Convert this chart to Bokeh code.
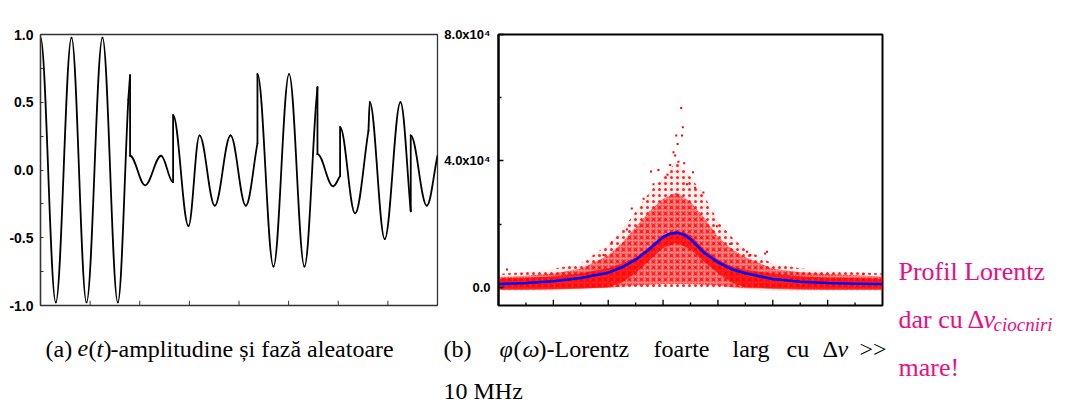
from bokeh.plotting import figure
from bokeh.models import Range1d, FixedTicker, ColumnDataSource
from bokeh.layouts import row, column
from bokeh.embed import file_html
from bokeh.resources import INLINE
from bokeh.core.properties import value

# ---------------- data: panel (a)  e(t), knots ----------------
wave_t = [0.0, 0.308, 0.625, 0.927, 1.249, 1.558, 1.769, 1.805, 1.805, 2.108,
          2.430, 2.672, 2.672, 2.982, 3.204, 3.512, 3.830, 4.137, 4.372, 4.372,
          4.695, 5.009, 5.319, 5.547, 5.581, 5.581, 5.896, 6.037, 6.037, 6.339,
          6.609, 6.635, 6.937, 7.254, 7.461, 7.461, 7.784, 8.0]
wave_e = [0.98, -0.977, 0.976, -0.977, 0.976, -0.977, 0.52, 0.70, 0.105, -0.113,
          0.105, -0.09, 0.405, -0.413, 0.255, -0.263, 0.255, -0.263, 0.197, 0.708,
          -0.712, 0.708, -0.712, 0.46, 0.612, 0.117, -0.12, -0.045, 0.317, -0.32,
          0.29, 0.50, -0.51, 0.50, -0.305, 0.255, -0.263, 0.105]
# 1 = local extremum (flat tangent), 0 = point on a slope / jump point
wave_flat = [1, 1, 1, 1, 1, 1, 0, 0, 1, 1,
             1, 1, 1, 1, 1, 1, 1, 1, 0, 1,
             1, 1, 1, 0, 0, 1, 1, 0, 1, 1,
             0, 1, 1, 1, 0, 1, 1, 0]
a_yticks = [-1.0, -0.5, 0.0, 0.5, 1.0]
a_yminor = [-0.75, -0.25, 0.25, 0.75]
a_xticks = [1, 2, 3, 4, 5, 6, 7]

# ---------------- data: panel (b)  Lorentz fit and scatter cloud ----------------
lor_x = [0, 1, 2, 3, 4, 4.5, 5, 5.5, 6, 6.25, 6.5, 6.75, 7, 7.5, 8, 8.5, 9, 10, 11, 12, 13, 14]
lor_y = [1000, 1300, 1900, 2900, 4600, 6300, 8700, 12000, 15900, 16900, 17200, 16700,
         15200, 10900, 7900, 5700, 4400, 2600, 1700, 1300, 1100, 1000]

env_x = [0, 1, 2, 3, 4, 4.5, 5, 5.5, 6, 6.5, 7, 7.5, 8, 8.5, 9, 10, 11, 12, 13, 14]
sparse_lo = [-1000, -1000, -1000, -800, -500, -300, 0, 0, 0, 0, 0, 0, -300, -500, -800, -1000, -1000, -1000, -1000, -1000]
sparse_hi = [4200, 4800, 5800, 7500, 13500, 18000, 24000, 30000, 35000, 40000, 35000, 29000, 21000, 16000, 12000, 7500, 6000, 5200, 4800, 4300]
mid_lo = [-800, -800, -700, -500, -200, 200, 500, 800, 1000, 1000, 1000, 800, 500, 0, -300, -600, -800, -800, -800, -800]
mid_hi = [3200, 3600, 4300, 5800, 10000, 14000, 19000, 24000, 28000, 30000, 27000, 22000, 16000, 12000, 9500, 5800, 4700, 4200, 3800, 3400]
dense_lo = [-700, -700, -600, -400, 0, 1500, 4500, 8500, 12500, 14000, 12000, 8000, 4500, 1500, 0, -400, -600, -700, -700, -700]
dense_hi = [2700, 3000, 3500, 4400, 6000, 7500, 9500, 12800, 16500, 18000, 16500, 12000, 8800, 6600, 5500, 4300, 3500, 3100, 2900, 2700]

out_x = [6.66, 6.72, 6.48, 6.69, 6.53, 6.38, 6.44, 6.56, 6.26, 6.77, 5.56, 5.83, 7.09, 6.16, 6.87,
         7.17, 5.65, 5.29, 7.47, 4.86, 4.13, 4.68, 7.96, 8.45, 9.06, 9.79, 3.83, 9.18, 9.72, 0.31, 13.3]
out_y = [56700, 50600, 48000, 48000, 45300, 42700, 41700, 39700, 38700, 39200, 36600, 37100, 36400, 35600, 32600,
         31500, 32600, 28000, 30000, 24900, 14200, 18300, 19300, 13700, 11200, 11200, 10200, 10200, 10700, 5600, 4200]

b_yticks = [0, 40000, 80000]
b_yminor = [20000, 60000]
b_ylabels = {0: "0.0", 40000: "4.0x10\u2074", 80000: "8.0x10\u2074"}
b_xticks = [2, 4, 6, 8, 10, 12]
b_xminor = [1, 3, 5, 7, 9, 11, 13]

PINK = "#EC0C82"
SERIF = value("Liberation Serif")

A_Y0, A_Y1, A_FRAME_H = -1.0, 1.0, 290
B_Y0, B_Y1, B_FRAME_H = -5800, 80000, 282


def style_yaxis(ax, color, width, maj_in, min_in, standoff, fsize):
    ax.major_tick_in = maj_in
    ax.major_tick_out = 0
    ax.minor_tick_in = min_in
    ax.minor_tick_out = 0
    ax.major_label_standoff = standoff
    ax.major_label_text_font = "Liberation Sans"
    ax.major_label_text_font_style = "bold"
    ax.major_label_text_font_size = fsize
    ax.major_label_text_color = "black"
    ax.axis_line_color = color
    ax.axis_line_width = width
    ax.major_tick_line_color = color
    ax.minor_tick_line_color = color
    ax.major_tick_line_width = max(1.0, width * 0.65)
    ax.minor_tick_line_width = max(1.0, width * 0.65)


# ---------------- panel (a) ----------------
pa = figure(width=440, height=330, x_range=Range1d(0, 8), y_range=Range1d(A_Y0, A_Y1),
            toolbar_location=None, output_backend="svg", x_axis_location=None,
            min_border_left=40, min_border_right=3, min_border_top=15, min_border_bottom=25)
pa.grid.visible = False
pa.outline_line_color = "#333333"
pa.outline_line_width = 1.3
pa.border_fill_color = "white"

h = 0.3634
x0, y0, x1, y1, cx0, cy0, cx1, cy1 = [], [], [], [], [], [], [], []
for i in range(len(wave_t) - 1):
    ta, ea, fa = wave_t[i], wave_e[i], wave_flat[i]
    tb, eb, fb = wave_t[i + 1], wave_e[i + 1], wave_flat[i + 1]
    dt, de = tb - ta, eb - ea
    x0.append(ta); y0.append(ea); x1.append(tb); y1.append(eb)
    cx0.append(ta + h * dt); cy0.append(ea if fa else ea + h * de)
    cx1.append(tb - h * dt); cy1.append(eb if fb else eb - h * de)
pa.bezier(x0=x0, y0=y0, x1=x1, y1=y1, cx0=cx0, cy0=cy0, cx1=cx1, cy1=cy1,
          line_color="black", line_width=1.8, line_cap="round")

# inward ticks on the bottom edge (5 px long)
tick_a = 5 * (A_Y1 - A_Y0) / A_FRAME_H
pa.segment(x0=a_xticks, y0=[A_Y0] * len(a_xticks), x1=a_xticks, y1=[A_Y0 + tick_a] * len(a_xticks),
           line_color="#333333", line_width=1)

for ax in pa.yaxis:
    ax.ticker = FixedTicker(ticks=a_yticks, minor_ticks=a_yminor)
    ax.major_label_overrides = {v: f"{v:.1f}" for v in a_yticks}
    style_yaxis(ax, "#333333", 1.3, 3, 3, 7, "14px")

# ---------------- panel (b) ----------------
pb = figure(width=455, height=330, x_range=Range1d(0, 14), y_range=Range1d(B_Y0, B_Y1),
            toolbar_location=None, output_backend="svg", x_axis_location=None,
            min_border_left=58, min_border_right=13, min_border_top=34, min_border_bottom=14)
pb.grid.visible = False
pb.outline_line_color = "black"
pb.outline_line_width = 2
pb.border_fill_color = "white"

src_env = ColumnDataSource(dict(x=env_x, slo=sparse_lo, shi=sparse_hi, mlo=mid_lo, mhi=mid_hi,
                                dlo=dense_lo, dhi=dense_hi))
pb.varea(x="x", y1="slo", y2="shi", source=src_env, fill_color="red", fill_alpha=0.06,
         hatch_pattern="dot", hatch_color="red", hatch_scale=6, hatch_weight=1.0, hatch_alpha=0.85)
pb.varea(x="x", y1="mlo", y2="mhi", source=src_env, fill_color="red", fill_alpha=0.45,
         hatch_pattern="dot", hatch_color="red", hatch_scale=3, hatch_weight=1.4, hatch_alpha=0.95)
pb.varea(x="x", y1="dlo", y2="dhi", source=src_env, fill_color="red", fill_alpha=0.75)
pb.scatter(x=out_x, y=out_y, marker="square", size=2, color="red", line_width=0)
pb.line(x=lor_x, y=lor_y, line_color="#0000FF", line_width=2.6, line_join="round")

tick_b = (B_Y1 - B_Y0) / B_FRAME_H
pb.segment(x0=b_xticks, y0=[B_Y0] * len(b_xticks), x1=b_xticks, y1=[B_Y0 + 6 * tick_b] * len(b_xticks),
           line_color="black", line_width=1.3)
pb.segment(x0=b_xminor, y0=[B_Y0] * len(b_xminor), x1=b_xminor, y1=[B_Y0 + 3 * tick_b] * len(b_xminor),
           line_color="black", line_width=1.3)

for ax in pb.yaxis:
    ax.ticker = FixedTicker(ticks=b_yticks, minor_ticks=b_yminor)
    ax.major_label_overrides = b_ylabels
    style_yaxis(ax, "black", 2, 5, 3, 8, "13px")

# ---------------- captions ----------------
cap = figure(width=895, height=72, x_range=Range1d(0, 895), y_range=Range1d(402, 330),
             toolbar_location=None, output_backend="svg", x_axis_location=None, y_axis_location=None,
             min_border=0)
cap.grid.visible = False
cap.outline_line_color = None


def put(p, xs, ys, txt, size, style="normal", color="black"):
    p.text(x=xs, y=ys, text=txt, text_font=SERIF, text_font_size=size, text_font_style=style,
           text_color=color, text_baseline="alphabetic", text_align="left")


CY = 348
put(cap, [45, 88, 103, 110], [CY] * 4, ["(a)", "(", ")", "-amplitudine \u0219i faz\u0103 aleatoare"], "24px")
put(cap, [77, 96], [CY] * 2, ["e", "t"], "24px", "italic")
put(cap, [443, 513, 538, 546, 653, 732, 786, 822, 859], [CY] * 9,
    ["(b)", "(", ")", "-Lorentz", "foarte", "larg", "cu", "\u0394", ">>"], "24px")
put(cap, [499, 522, 837], [CY] * 3, ["\u03c6", "\u03c9", "\u03bd"], "24px", "italic")
put(cap, [443], [390], ["10 MHz"], "24px")

side = figure(width=170, height=402, x_range=Range1d(895, 1065), y_range=Range1d(402, 0),
              toolbar_location=None, output_backend="svg", x_axis_location=None, y_axis_location=None,
              min_border=0)
side.grid.visible = False
side.outline_line_color = None
put(side, [898, 898, 967, 898], [271, 319, 319, 367], ["Profil Lorentz", "dar cu", "\u0394", "mare!"], "26px", color=PINK)
put(side, [983], [319], ["\u03bd"], "26px", "italic", PINK)
put(side, [993], [324], ["ciocniri"], "19px", "italic", PINK)

layout = row(column(row(pa, pb), cap), side)
open("out.html", "w").write(file_html(layout, INLINE))
